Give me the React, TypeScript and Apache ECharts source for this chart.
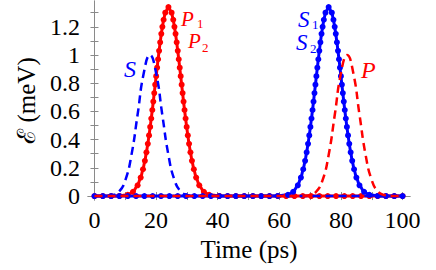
import React, { useEffect, useRef } from "react";
import * as echarts from "echarts";

// P1 (solid red) sample points, denser on the flanks like the reference's markers
const p1Times = [0, 2.7, 5.4, 8.1, 10.8, 12.5, 14.0, 15.0, 15.75, 16.36, 16.86, 17.31, 17.71, 18.08, 18.43, 18.77, 19.09, 19.4, 19.71, 20.02, 20.33, 20.65, 20.97, 21.32, 21.69, 22.04, 22.44, 22.97, 24.0, 25.03, 25.56, 25.96, 26.31, 26.68, 27.03, 27.35, 27.67, 27.98, 28.29, 28.6, 28.91, 29.23, 29.57, 29.92, 30.29, 30.69, 31.14, 31.64, 32.25, 33.0, 34.0, 35.5, 37.2, 40.5, 43.2, 45.9, 48.6, 51.4, 54.1, 56.8, 59.5, 62.2, 64.9, 67.6, 70.3, 73.0, 75.7, 78.4, 81.1, 83.8, 86.5, 89.2, 91.9, 94.6, 97.3, 100];
const p1Values = [0, 0, 0, 0.001, 0.009, 0.03, 0.076, 0.131, 0.19, 0.25, 0.31, 0.37, 0.43, 0.49, 0.55, 0.61, 0.67, 0.73, 0.79, 0.85, 0.91, 0.97, 1.03, 1.09, 1.15, 1.2, 1.25, 1.3, 1.34, 1.3, 1.25, 1.2, 1.15, 1.09, 1.03, 0.97, 0.91, 0.85, 0.79, 0.73, 0.67, 0.61, 0.55, 0.49, 0.43, 0.37, 0.31, 0.25, 0.19, 0.131, 0.076, 0.03, 0.009, 0.001, 0, 0, 0, 0, 0, 0, 0, 0, 0, 0, 0, 0, 0, 0, 0, 0, 0, 0, 0, 0, 0, 0];

// S1 (solid blue)
const s1Times = [0, 2.7, 5.4, 8.1, 10.8, 13.5, 16.2, 18.9, 21.6, 24.3, 27.0, 29.7, 32.4, 35.1, 37.8, 40.5, 43.2, 45.9, 48.6, 51.4, 54.1, 56.8, 59.5, 62.8, 64.5, 66.0, 67.0, 67.75, 68.36, 68.86, 69.31, 69.71, 70.08, 70.43, 70.77, 71.09, 71.4, 71.71, 72.02, 72.33, 72.65, 72.97, 73.32, 73.69, 74.04, 74.44, 74.97, 76.0, 77.03, 77.56, 77.96, 78.31, 78.68, 79.03, 79.35, 79.67, 79.98, 80.29, 80.6, 80.91, 81.23, 81.57, 81.92, 82.29, 82.69, 83.14, 83.64, 84.25, 85.0, 86.0, 87.5, 89.2, 91.9, 94.6, 97.3, 100];
const s1Values = [0, 0, 0, 0, 0, 0, 0, 0, 0, 0, 0, 0, 0, 0, 0, 0, 0, 0, 0, 0, 0, 0, 0.001, 0.009, 0.03, 0.076, 0.131, 0.19, 0.25, 0.31, 0.37, 0.43, 0.49, 0.55, 0.61, 0.67, 0.73, 0.79, 0.85, 0.91, 0.97, 1.03, 1.09, 1.15, 1.2, 1.25, 1.3, 1.34, 1.3, 1.25, 1.2, 1.15, 1.09, 1.03, 0.97, 0.91, 0.85, 0.79, 0.73, 0.67, 0.61, 0.55, 0.49, 0.43, 0.37, 0.31, 0.25, 0.19, 0.131, 0.076, 0.03, 0.009, 0.001, 0, 0, 0];

// S and P (dashed) reference pulses
const dashTimes = [0, 2, 4, 6, 8, 10, 12, 14, 16, 18, 20, 22, 24, 26, 28, 30, 32, 34, 36, 38, 40, 42, 44, 46, 48, 50, 52, 54, 56, 58, 60, 62, 64, 66, 68, 70, 72, 74, 76, 78, 80, 82, 84, 86, 88, 90, 92, 94, 96, 98, 100];
const sDashed = [0, 0, 0.001, 0.007, 0.032, 0.111, 0.291, 0.578, 0.872, 1, 0.872, 0.578, 0.291, 0.111, 0.032, 0.007, 0.001, 0, 0, 0, 0, 0, 0, 0, 0, 0, 0, 0, 0, 0, 0, 0, 0, 0, 0, 0, 0, 0, 0, 0, 0, 0, 0, 0, 0, 0, 0, 0, 0, 0, 0];
const pDashed = [0, 0, 0, 0, 0, 0, 0, 0, 0, 0, 0, 0, 0, 0, 0, 0, 0, 0, 0, 0, 0, 0, 0, 0, 0, 0, 0, 0, 0, 0, 0, 0, 0, 0, 0.001, 0.007, 0.032, 0.111, 0.291, 0.578, 0.872, 1, 0.872, 0.578, 0.291, 0.111, 0.032, 0.007, 0.001, 0, 0];

const xTickLabels = [0, 20, 40, 60, 80, 100];
const xTicks = [0, 10, 20, 30, 40, 50, 60, 70, 80, 90, 100];
const yTickLabels = [0, 0.2, 0.4, 0.6, 0.8, 1, 1.2];
const yTicks = [0, 0.1, 0.2, 0.3, 0.4, 0.5, 0.6, 0.7, 0.8, 0.9, 1, 1.1, 1.2, 1.3];

const RED = "#ff0000";
const BLUE = "#0000ff";
const FRAME = "#8a8a8a";
const SERIF = "'Liberation Serif', 'DejaVu Serif', serif";

const zip = (xs: number[], ys: number[]) => xs.map((x, i) => [x, ys[i]]);

export default function App() {
  const ref = useRef<HTMLDivElement>(null);
  useEffect(() => {
    if (!ref.current) return;
    const chart = echarts.init(ref.current, undefined, { renderer: "svg" });
    const axisLineStyle = { show: true, lineStyle: { color: FRAME, width: 1 } };
    const tickStyle = { inside: true, length: 4, lineStyle: { color: FRAME } };
    const label = (txt: string, x: number, y: number, color: string, size: number, italic: boolean) => ({
      type: "text",
      x,
      y,
      style: {
        text: txt,
        fill: color,
        font: `${italic ? "italic " : ""}${size}px ${SERIF}`,
        verticalAlign: "middle",
        align: "left",
      },
      z: 100,
    });
    chart.setOption({
      animation: false,
      grid: { left: 88, right: 26, top: 1, bottom: 70, containLabel: false },
      xAxis: [
        {
          type: "value",
          min: -2.1,
          max: 102.4,
          position: "bottom",
          axisLine: axisLineStyle,
          axisTick: { ...tickStyle, customValues: xTicks },
          axisLabel: {
            customValues: xTickLabels,
            color: "#000",
            fontFamily: SERIF,
            fontSize: 24,
            margin: 8,
          },
          splitLine: { show: false },
          name: "Time (ps)",
          nameLocation: "middle",
          nameGap: 37,
          nameTextStyle: { color: "#000", fontFamily: SERIF, fontSize: 25 },
        },
        {
          type: "value",
          min: -2.1,
          max: 102.4,
          position: "top",
          axisLine: axisLineStyle,
          axisTick: { ...tickStyle, customValues: xTicks },
          axisLabel: { show: false },
          splitLine: { show: false },
        },
      ],
      yAxis: [
        {
          type: "value",
          min: -0.028,
          max: 1.383,
          position: "left",
          axisLine: axisLineStyle,
          axisTick: { ...tickStyle, customValues: yTicks },
          axisLabel: {
            customValues: yTickLabels,
            color: "#000",
            fontFamily: SERIF,
            fontSize: 24,
            margin: 8,
            formatter: (v: number) => String(Math.round(v * 10) / 10),
          },
          splitLine: { show: false },
          name: "\u2130 (meV)",
          nameLocation: "middle",
          nameGap: 48,
          nameRotate: 90,
          nameTextStyle: { color: "#000", fontFamily: SERIF, fontSize: 25 },
        },
        {
          type: "value",
          min: -0.028,
          max: 1.383,
          position: "right",
          axisLine: axisLineStyle,
          axisTick: { ...tickStyle, customValues: yTicks },
          axisLabel: { show: false },
          splitLine: { show: false },
        },
      ],
      series: [
        {
          type: "line",
          data: zip(p1Times, p1Values),
          smooth: 0.3,
          smoothMonotone: "x",
          symbol: "circle",
          symbolSize: 6,
          showSymbol: true,
          showAllSymbol: true,
          lineStyle: { color: RED, width: 3 },
          itemStyle: { color: RED },
          z: 2,
        },
        {
          type: "line",
          data: zip(s1Times, s1Values),
          smooth: 0.3,
          smoothMonotone: "x",
          symbol: "circle",
          symbolSize: 6,
          showSymbol: true,
          showAllSymbol: true,
          lineStyle: { color: BLUE, width: 3 },
          itemStyle: { color: BLUE },
          z: 2,
        },
        {
          type: "line",
          data: zip(dashTimes, sDashed),
          smooth: true,
          showSymbol: false,
          lineStyle: { color: BLUE, width: 2.5, type: [8, 5] },
          z: 3,
        },
        {
          type: "line",
          data: zip(dashTimes, pDashed),
          smooth: true,
          showSymbol: false,
          lineStyle: { color: RED, width: 2.5, type: [8, 5] },
          z: 3,
        },
      ],
      graphic: [
        label("S", 124, 69, BLUE, 24, true),
        label("P", 181, 19, RED, 21, true),
        label("1", 197, 23, RED, 13, false),
        label("P", 188, 41, RED, 21, true),
        label("2", 202, 47, RED, 13, false),
        label("S", 298, 19, BLUE, 23, true),
        label("1", 312, 24, BLUE, 13, false),
        label("S", 296, 42, BLUE, 23, true),
        label("2", 310, 48, BLUE, 13, false),
        label("P", 361, 70, RED, 24, true),
      ],
    });
    return () => chart.dispose();
  }, []);
  return <div ref={ref} style={{ width: 436, height: 270, position: "absolute", left: 0, top: 0 }} />;
}
